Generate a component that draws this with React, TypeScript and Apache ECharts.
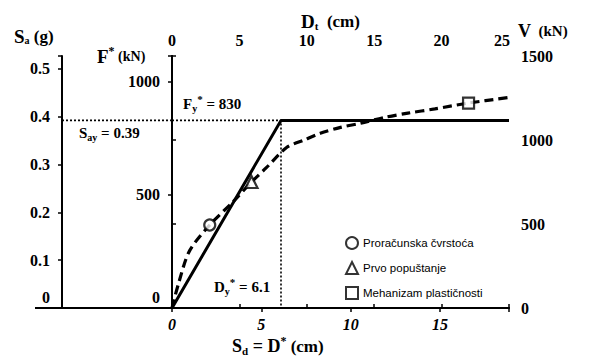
import React, { useEffect, useRef } from "react";
import * as echarts from "echarts";

// Axis extents
const sdMax = 18.86; // bottom axis S_d = D* (cm)
const dtMax = 25; // top axis D_t (cm)
const fMax = 1115; // left inner axis F* (kN)
const vMax = 1500; // right axis V (kN)
const saMax = 0.527; // outer left axis S_a (g)

// Idealized bilinear curve (S_d, F*)
const bilinearSd = [0, 6.1, 18.86];
const bilinearF = [0, 830, 830];

// Pushover curve (D_t, V)
const pushDt = [0, 0.5, 1.3, 2.8, 4.5, 5.9, 7.0, 8.5, 9.8, 11.0, 12.5, 14.0, 15.8, 17.5, 19.5, 22.0, 24.9];
const pushV = [0, 150, 340, 494, 630, 750, 835, 955, 1000, 1040, 1075, 1100, 1135, 1160, 1185, 1220, 1252];

// Marked states on pushover curve
const markerNames = ["Proračunska čvrstoća", "Prvo popuštanje", "Mehanizam plastičnosti"];
const markerSymbols = ["circle", "triangle", "rect"];
const markerDt = [2.8, 5.9, 22.0];
const markerV = [494, 750, 1220];

// Yield point
const yieldF = 830;
const yieldD = 6.1;
const yieldSa = 0.39;

const SERIF = "'Liberation Serif', 'Times New Roman', serif";
const SANS = "'Liberation Sans', Arial, sans-serif";

const GRID = { left: 172, right: 89, top: 56, bottom: 52 };
const SA_OFFSET = 110;
const TICK_FS = 16;

const lbl = (size = TICK_FS) => ({
  fontFamily: SERIF,
  fontWeight: "bold" as const,
  fontSize: size,
  color: "#000",
});

export default function App() {
  const ref = useRef<HTMLDivElement>(null);

  useEffect(() => {
    document.body.style.margin = "0";
    if (!ref.current) return;
    const chart = echarts.init(ref.current, undefined, { renderer: "svg" });

    const axisLine = { show: true, lineStyle: { color: "#000", width: 2 } };
    const axisTick = { show: true, length: 4, lineStyle: { color: "#000", width: 1.5 } };
    const isMult = (v: number, step: number) => Math.abs(v / step - Math.round(v / step)) < 1e-6;

    const option: any = {
      animation: false,
      backgroundColor: "#fff",
      grid: { ...GRID },
      legend: {
        orient: "vertical",
        left: 340,
        top: 231,
        itemWidth: 12,
        itemHeight: 12,
        itemGap: 11,
        textStyle: { fontFamily: SANS, fontSize: 11.5, color: "#000" },
        data: markerNames,
      },
      xAxis: [
        {
          type: "value",
          position: "bottom",
          min: 0,
          max: sdMax,
          interval: 5,
          axisLine,
          axisTick,
          splitLine: { show: false },
          axisLabel: {
            ...lbl(),
            fontStyle: "italic",
            margin: 8,
            formatter: (v: number) => (isMult(v, 5) ? String(v) : ""),
          },
        },
        {
          type: "value",
          position: "top",
          min: 0,
          max: dtMax,
          interval: 5,
          axisLine: { show: true, lineStyle: { color: "#000", width: 1.5 } },
          axisTick,
          splitLine: { show: false },
          axisLabel: {
            ...lbl(),
            margin: 8,
            formatter: (v: number) => (v === dtMax ? "{e|" + v + "}" : String(v)),
            rich: { e: { ...lbl(), padding: [0, 14, 0, 0] } },
          },
        },
      ],
      yAxis: [
        {
          type: "value",
          position: "left",
          min: 0,
          max: fMax,
          interval: 500,
          axisLine,
          axisTick,
          splitLine: { show: false },
          axisLabel: {
            ...lbl(),
            margin: 12,
            formatter: (v: number) => (v === 0 ? "{z|0}" : isMult(v, 500) ? String(v) : ""),
            rich: { z: { ...lbl(), padding: [0, 0, 22, 0] } },
          },
        },
        {
          type: "value",
          position: "right",
          min: 0,
          max: vMax,
          interval: 500,
          axisLine,
          axisTick,
          splitLine: { show: false },
          axisLabel: { ...lbl(), margin: 12, formatter: (v: number) => String(v) },
        },
        {
          type: "value",
          position: "left",
          offset: SA_OFFSET,
          min: 0,
          max: saMax,
          interval: 0.1,
          axisLine,
          axisTick,
          splitLine: { show: false },
          axisLabel: {
            ...lbl(),
            margin: 12,
            formatter: (v: number) =>
              v === 0 ? "{z|0}" : isMult(v, 0.1) ? v.toFixed(1) : "",
            rich: { z: { ...lbl(), padding: [0, 0, 22, 0] } },
          },
        },
      ],
      series: [
        {
          type: "line",
          name: "yield-guides",
          xAxisIndex: 0,
          yAxisIndex: 0,
          data: [
            [0, yieldF],
            [yieldD, yieldF],
            [yieldD, 0],
          ],
          symbol: "none",
          lineStyle: { color: "#000", width: 1.6, type: [2, 2] },
          silent: true,
          z: 1,
        },
        {
          type: "line",
          name: "bilinear",
          xAxisIndex: 0,
          yAxisIndex: 0,
          data: bilinearSd.map((d, i) => [d, bilinearF[i]]),
          symbol: "none",
          lineStyle: { color: "#000", width: 3 },
          z: 2,
        },
        {
          type: "line",
          name: "pushover",
          xAxisIndex: 1,
          yAxisIndex: 1,
          data: pushDt.map((d, i) => [d, pushV[i]]),
          symbol: "none",
          smooth: 0.3,
          lineStyle: { color: "#000", width: 3.2, type: [9, 5] },
          z: 3,
        },
        ...markerNames.map((name, i) => ({
          type: "scatter",
          name,
          xAxisIndex: 1,
          yAxisIndex: 1,
          data: [[markerDt[i], markerV[i]]],
          symbol: markerSymbols[i],
          symbolSize: markerSymbols[i] === "triangle" ? 12 : 11,
          itemStyle: { color: "#fff", borderColor: "#000", borderWidth: 2.2 },
          z: 5,
        })),
      ],
    };

    chart.setOption(option);

    const yYield = chart.convertToPixel({ yAxisIndex: 0 }, yieldF) as number;
    const x0 = chart.convertToPixel({ xAxisIndex: 0 }, 0) as number;
    const yBase = chart.convertToPixel({ yAxisIndex: 0 }, 0) as number;
    const xSa = x0 - SA_OFFSET;

    const big = (s: number) => ({ fontFamily: SERIF, fontWeight: "bold", fontSize: s, fill: "#000" });
    const sub = (s: number) => ({ ...big(s), padding: [9, 0, 0, 0] });
    const sup = (s: number) => ({ ...big(s), padding: [0, 0, 10, 0] });

    const txt = (x: number, y: number, text: string, rich: any) => ({
      type: "text",
      x,
      y,
      silent: true,
      style: {
        text,
        verticalAlign: "middle",
        align: "left",
        rich,
        ...big(15),
      },
    });

    chart.setOption({
      graphic: [
        {
          type: "line",
          silent: true,
          shape: { x1: xSa, y1: yYield, x2: x0, y2: yYield },
          style: { stroke: "#000", lineWidth: 1.6, lineDash: [2, 2] },
        },
        {
          type: "line",
          silent: true,
          shape: { x1: 35, y1: yBase, x2: x0, y2: yBase },
          style: { stroke: "#000", lineWidth: 2 },
        },
        txt(14, 36, "{b|S}{s|a}{m| (g)}", { b: big(19), s: sub(10), m: big(17) }),
        txt(97, 56, "{b|F}{p|*}{m| (kN)}", { b: big(19), p: sup(12), m: big(14) }),
        txt(301, 21, "{b|D}{s|t}{m|  (cm)}", { b: big(19), s: sub(11), m: big(17) }),
        txt(518, 31, "{b|V}{m|  (kN)}", { b: big(18), m: big(15) }),
        txt(232, 346, "{b|S}{s|d}{b| = D}{p|*}{m| (cm)}", { b: big(18), s: sub(11), p: sup(12), m: big(17) }),
        txt(183, 104, "{b|F}{s|y}{p|*}{b| = " + yieldF + "}", { b: big(15), s: sub(10), p: sup(11) }),
        txt(79, 133, "{b|S}{s|ay}{b| = " + yieldSa.toFixed(2) + "}", { b: big(15), s: sub(10) }),
        txt(214, 287, "{b|D}{s|y}{p|*}{b| = " + yieldD + "}", { b: big(15), s: sub(10), p: sup(11) }),
      ],
    });

    return () => chart.dispose();
  }, []);

  return <div ref={ref} style={{ width: 598, height: 360 }} />;
}
